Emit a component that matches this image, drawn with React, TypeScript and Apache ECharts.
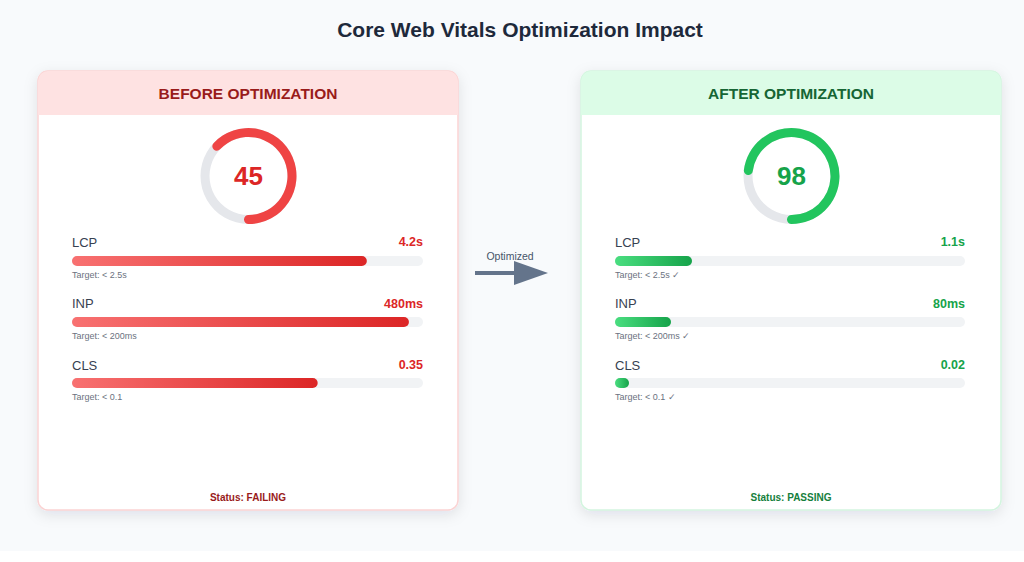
import React, { useEffect, useRef } from 'react';
import * as echarts from 'echarts';

// ---- data ----
const metrics = ['LCP', 'INP', 'CLS'];
const units = ['s', 'ms', ''];
const scaleMax = [5, 500, 0.5];
const targets = ['< 2.5s', '< 200ms', '< 0.1'];
const beforeValues = [4.2, 480, 0.35];
const afterValues = [1.1, 80, 0.02];
const scores = [45, 98];
const ringFill = [63, 73]; // share of the ring that is drawn (percent), as seen in the picture
const panelTitles = ['BEFORE OPTIMIZATION', 'AFTER OPTIMIZATION'];
const statusLabels = ['Status: FAILING', 'Status: PASSING'];
const targetSuffix = ['', ' ✓'];
const chartTitle = 'Core Web Vitals Optimization Impact';
const arrowLabel = 'Optimized';

const FONT = "'Liberation Sans', Arial, Helvetica, sans-serif";

const themes = [
  {
    header: '#fee2e2', headText: '#991b1b', border: '#fbd3d3', ring: '#ef4444', num: '#dc2626',
    value: '#dc2626', g0: '#f87171', g1: '#dc2626', status: '#991b1b',
  },
  {
    header: '#dcfce7', headText: '#166534', border: '#d3f5df', ring: '#22c55e', num: '#16a34a',
    value: '#16a34a', g0: '#4ade80', g1: '#16a34a', status: '#15803d',
  },
];

const panelX = [38, 581];
const panelW = 420;
const panelTop = 71;
const panelH = 439;
const headerH = 44;

function fmt(v: number, u: string) {
  return `${v}${u}`;
}

export default function App() {
  const ref = useRef<HTMLDivElement>(null);

  useEffect(() => {
    if (!ref.current) return;
    const chart = echarts.init(ref.current, undefined, { renderer: 'svg' });

    const graphics: any[] = [];
    const grids: any[] = [];
    const xAxes: any[] = [];
    const yAxes: any[] = [];
    const series: any[] = [];

    graphics.push({
      type: 'text', x: 520, y: 29, z: 10,
      style: {
        text: chartTitle, fill: '#1e293b', fontSize: 21, fontWeight: 'bold', fontFamily: FONT,
        textAlign: 'center', align: 'center', textVerticalAlign: 'middle', verticalAlign: 'middle',
      },
    });

    [0, 1].forEach((p) => {
      const th = themes[p];
      const px = panelX[p];
      const cx = px + panelW / 2;
      const values = p === 0 ? beforeValues : afterValues;

      graphics.push({
        type: 'rect', z: 0,
        shape: { x: px, y: panelTop, width: panelW, height: panelH, r: 10 },
        style: {
          fill: '#ffffff', stroke: th.border, lineWidth: 1.5,
          shadowBlur: 14, shadowColor: 'rgba(15,23,42,0.10)', shadowOffsetY: 4,
        },
      });
      graphics.push({
        type: 'rect', z: 1,
        shape: { x: px, y: panelTop, width: panelW, height: headerH, r: [10, 10, 0, 0] },
        style: { fill: th.header },
      });
      graphics.push({
        type: 'text', x: cx, y: panelTop + headerH / 2, z: 10,
        style: {
          text: panelTitles[p], fill: th.headText, fontSize: 15.5, fontWeight: 'bold', fontFamily: FONT,
          textAlign: 'center', align: 'center', textVerticalAlign: 'middle', verticalAlign: 'middle',
        },
      });
      graphics.push({
        type: 'text', x: cx, y: 497, z: 10,
        style: {
          text: statusLabels[p], fill: th.status, fontSize: 10, fontWeight: 'bold', fontFamily: FONT,
          textAlign: 'center', align: 'center', textVerticalAlign: 'middle', verticalAlign: 'middle',
        },
      });

      // score ring
      series.push({
        type: 'gauge',
        center: [cx + 0.5, 176],
        radius: 48,
        startAngle: -90,
        endAngle: 270,
        clockwise: false,
        min: 0,
        max: 100,
        axisLine: { show: true, roundCap: false, lineStyle: { width: 9, color: [[1, '#e5e7eb']] } },
        progress: { show: true, width: 9, roundCap: true, itemStyle: { color: th.ring } },
        pointer: { show: false },
        anchor: { show: false },
        axisTick: { show: false },
        splitLine: { show: false },
        axisLabel: { show: false },
        title: { show: false },
        detail: {
          show: true, offsetCenter: [0, 0], valueAnimation: false,
          formatter: () => String(scores[p]),
          fontSize: 26, fontWeight: 'bold', color: th.num, fontFamily: FONT,
        },
        data: [{ value: ringFill[p] }],
      });

      const barLeft = px + 34;
      const barW = 351 - p;
      metrics.forEach((m, i) => {
        const labelY = 242 + i * 61.5;
        const barY = 261 + i * 61;
        const targetY = 274.5 + i * 61;
        graphics.push({
          type: 'text', x: barLeft, y: labelY, z: 10,
          style: {
            text: m, fill: '#374151', fontSize: 13, fontFamily: FONT,
            textAlign: 'left', align: 'left', textVerticalAlign: 'middle', verticalAlign: 'middle',
          },
        });
        graphics.push({
          type: 'text', x: barLeft + barW, y: labelY, z: 10,
          style: {
            text: fmt(values[i], units[i]), fill: th.value, fontSize: 12.5, fontWeight: 'bold', fontFamily: FONT,
            textAlign: 'right', align: 'right', textVerticalAlign: 'middle', verticalAlign: 'middle',
          },
        });
        graphics.push({
          type: 'text', x: barLeft, y: targetY, z: 10,
          style: {
            text: `Target: ${targets[i]}${targetSuffix[p]}`, fill: '#6b7280', fontSize: 9, fontFamily: FONT,
            textAlign: 'left', align: 'left', textVerticalAlign: 'middle', verticalAlign: 'middle',
          },
        });

        const gi = grids.length;
        grids.push({ left: barLeft, top: barY - 5, width: barW, height: 10, containLabel: false });
        xAxes.push({ type: 'value', gridIndex: gi, min: 0, max: scaleMax[i], show: false });
        yAxes.push({ type: 'category', gridIndex: gi, data: [m], show: false });
        series.push({
          type: 'bar',
          xAxisIndex: gi,
          yAxisIndex: gi,
          data: [values[i]],
          barWidth: 10,
          showBackground: true,
          backgroundStyle: { color: '#f1f3f5', borderRadius: 5 },
          itemStyle: {
            borderRadius: 5,
            color: new echarts.graphic.LinearGradient(0, 0, 1, 0, [
              { offset: 0, color: th.g0 },
              { offset: 1, color: th.g1 },
            ]),
          },
          silent: true,
        });
      });
    });

    // arrow between panels
    graphics.push({
      type: 'line', z: 5,
      shape: { x1: 475, y1: 273, x2: 516, y2: 273 },
      style: { stroke: '#64748b', lineWidth: 4 },
    });
    graphics.push({
      type: 'polygon', z: 5,
      shape: { points: [[514, 261], [548, 273], [514, 285]] },
      style: { fill: '#64748b' },
    });
    graphics.push({
      type: 'text', x: 510, y: 256, z: 10,
      style: {
        text: arrowLabel, fill: '#475569', fontSize: 10.5, fontFamily: FONT,
        textAlign: 'center', align: 'center', textVerticalAlign: 'middle', verticalAlign: 'middle',
      },
    });

    chart.setOption({
      animation: false,
      backgroundColor: '#f8fafc',
      graphic: { elements: graphics },
      grid: grids,
      xAxis: xAxes,
      yAxis: yAxes,
      series,
    });

    return () => chart.dispose();
  }, []);

  return (
    <div
      ref={ref}
      style={{ position: 'absolute', left: 0, top: 0, width: 1024, height: 551 }}
    />
  );
}
